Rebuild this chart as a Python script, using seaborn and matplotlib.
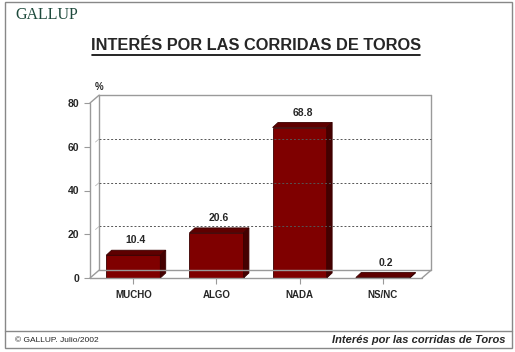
import matplotlib
matplotlib.use("Agg")
import matplotlib.pyplot as plt
import seaborn as sns
from matplotlib.patches import Polygon, Rectangle
from matplotlib.lines import Line2D

sns.set_style("white")
plt.rcParams['font.family'] = ['Liberation Sans', 'DejaVu Sans']

# data
categories = ["MUCHO", "ALGO", "NADA", "NS/NC"]
values = [10.4, 20.6, 68.8, 0.2]
yticks = [0, 20, 40, 60, 80]

W, H = 515, 352
fig = plt.figure(figsize=(W / 100, H / 100), dpi=100)

# axes = front plane of the 3D box (pixel coords from the reference)
ax = fig.add_axes([90 / W, (H - 278) / H, (422 - 90) / W, (278 - 103) / H])
ax.set_facecolor("none")

sns.barplot(x=categories, y=values, color="#7f0000", width=0.65,
            saturation=1, ax=ax, edgecolor="#3a0000", linewidth=0.6)

x0, x1 = -0.52, 3.47
ax.set_xlim(x0, x1)
ax.set_ylim(0, 80)
for s in ax.spines.values():
    s.set_visible(False)

# depth of the wall and of the bars (data units)
wdx, wdy = 0.11, 3.6
bdx, bdy = 0.065, 2.3
gray = "#9a9a9a"

def line(xs, ys, **kw):
    ax.add_line(Line2D(xs, ys, clip_on=False, **kw))

# back wall, floor, left wall
line([x0 + wdx, x1 + wdx], [80 + wdy, 80 + wdy], color=gray, lw=1)
line([x1 + wdx, x1 + wdx], [wdy, 80 + wdy], color=gray, lw=1)
line([x0 + wdx, x0 + wdx], [wdy, 80 + wdy], color=gray, lw=1)
line([x0 + wdx, x1 + wdx], [wdy, wdy], color=gray, lw=1)
line([x0, x1], [0, 0], color=gray, lw=1)
line([x0, x0], [0, 80], color=gray, lw=1)
line([x0, x0 + wdx], [80, 80 + wdy], color=gray, lw=1)
line([x0, x0 + wdx], [0, wdy], color=gray, lw=1)
line([x1, x1 + wdx], [0, wdy], color=gray, lw=1)
for v in yticks[1:-1]:
    line([x0 + wdx, x1 + wdx], [v + wdy, v + wdy], color="#555555",
         lw=0.7, ls=(0, (2, 2)))
    line([x0 + wdx * 0.6, x0 + wdx], [v + wdy * 0.6, v + wdy], color="#bbbbbb", lw=0.6)

# 3D top and side faces of the bars
for p in ax.patches[:len(values)]:
    bx, by = p.get_x(), p.get_y()
    bw, bh = p.get_width(), p.get_height()
    top = Polygon([(bx, by + bh), (bx + bdx, by + bh + bdy),
                   (bx + bw + bdx, by + bh + bdy), (bx + bw, by + bh)],
                  closed=True, facecolor="#5e0000", edgecolor="#3a0000", lw=0.6)
    side = Polygon([(bx + bw, by), (bx + bw + bdx, by + bdy),
                    (bx + bw + bdx, by + bh + bdy), (bx + bw, by + bh)],
                   closed=True, facecolor="#450000", edgecolor="#3a0000", lw=0.6)
    ax.add_patch(top)
    ax.add_patch(side)

for i, v in enumerate(values):
    ax.text(i + bdx / 2, v + bdy + 4.5, f"{v:.1f}", ha="center", va="center",
            fontsize=7.5, fontweight="bold")

ax.set_yticks(yticks)
ax.set_yticklabels([str(t) for t in yticks], fontsize=7.5, fontweight="bold")
ax.set_xticks(range(len(categories)))
ax.set_xticklabels(categories, fontsize=7, fontweight="bold")
ax.tick_params(axis="y", length=4, color=gray, pad=4, width=0.8, left=True)
ax.tick_params(axis="x", length=4, color=gray, pad=5, width=0.8, bottom=True)
ax.text(x0 + wdx, 87.3, "%", fontsize=7, fontweight="bold", ha="center", va="center")

# frame, header and footer
fig.patches.append(Rectangle((5 / W, 4 / H), 507 / W, 346 / H, transform=fig.transFigure,
                             fill=False, edgecolor="#888888", lw=1))
fig.lines.append(Line2D([5 / W, 512 / W], [(H - 331) / H, (H - 331) / H],
                        transform=fig.transFigure, color="#888888", lw=1))
fig.text(15 / W, (H - 15) / H, "GALLUP", family=["Liberation Serif", "DejaVu Serif"],
         fontsize=11.5, color="#1e4a3c", va="center", ha="left")
fig.text(256 / W, (H - 46) / H, "INTERÉS POR LAS CORRIDAS DE TOROS", fontsize=11.8,
         fontweight="bold", ha="center", va="center")
fig.lines.append(Line2D([92 / W, 420 / W], [(H - 55) / H, (H - 55) / H],
                        transform=fig.transFigure, color="black", lw=1.2))
fig.text(15 / W, (H - 341) / H, "© GALLUP. Julio/2002", fontsize=6, ha="left", va="center")
fig.text(505 / W, (H - 340) / H, "Interés por las corridas de Toros", fontsize=8,
         fontweight="bold", style="italic", ha="right", va="center")

fig.savefig("out.png", dpi=100)
